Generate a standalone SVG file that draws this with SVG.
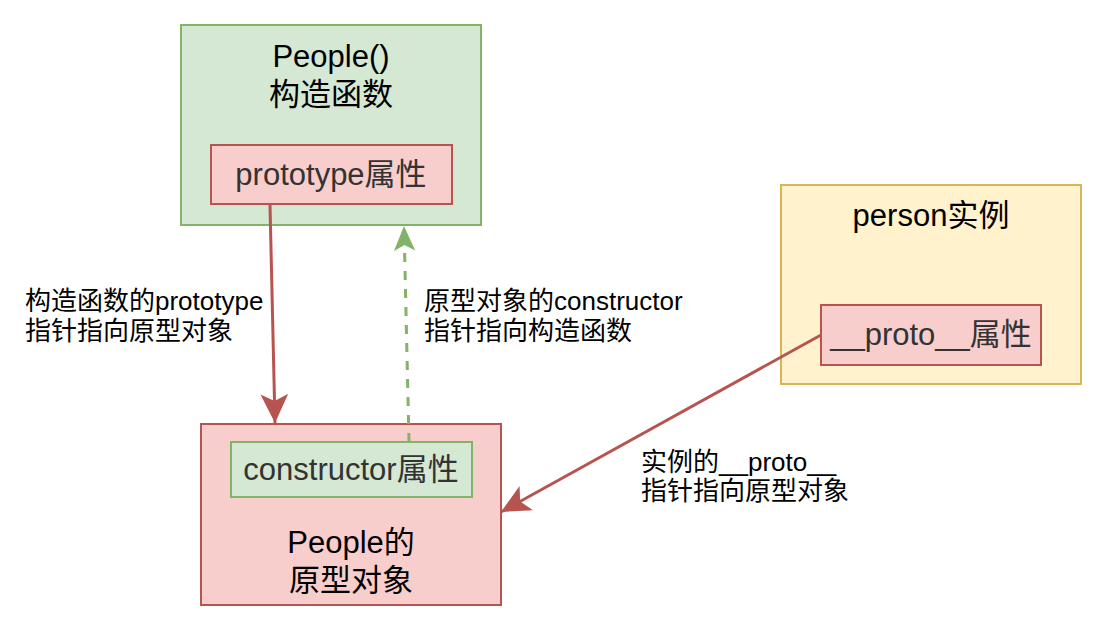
<svg xmlns="http://www.w3.org/2000/svg" width="1116" height="628" viewBox="0 0 1116 628">
<style>
text{font-family:"Liberation Sans","Noto Sans CJK SC",Arial,sans-serif;fill:#000}
.t{font-size:31px;text-anchor:middle}
.p{font-size:31px;text-anchor:middle;fill:#333}
.l{font-size:26px}
.green{fill:#d5e8d4;stroke:#82b366;stroke-width:2}
.red{fill:#f8cecc;stroke:#b85450;stroke-width:2}
.yellow{fill:#fff2cc;stroke:#d6b656;stroke-width:2}
.er{fill:none;stroke:#b85450;stroke-width:3}
.eg{fill:none;stroke:#82b366;stroke-width:3;stroke-dasharray:9 9}
</style>
<defs>
<marker id="ar" markerUnits="userSpaceOnUse" markerWidth="30" markerHeight="30" viewBox="0 -13 26 26" refX="25" refY="0" orient="auto">
<path d="M0,-12 L25,0 L0,12 L6,0 Z" fill="#b85450"/>
</marker>
<marker id="ag" markerUnits="userSpaceOnUse" markerWidth="26" markerHeight="26" viewBox="0 -10 22 20" refX="21" refY="0" orient="auto">
<path d="M0,-9 L21,0 L0,9 L5,0 Z" fill="#82b366"/>
</marker>
</defs>
<rect width="1116" height="628" fill="#fff"/>
<g id="constructor-fn">
<rect class="green" x="181" y="25" width="300" height="200"/>
<text class="t" x="331" y="67">People()</text>
<text class="t" x="331" y="105">构造函数</text>
</g>
<g id="prototype-prop">
<rect class="red" x="211" y="145" width="241" height="59"/>
<text class="p" x="331" y="185">prototype属性</text>
</g>
<g id="proto-object">
<rect class="red" x="201" y="424" width="300" height="181"/>
<text class="t" x="351" y="553">People的</text>
<text class="t" x="351" y="591">原型对象</text>
</g>
<g id="constructor-prop">
<rect class="green" x="231" y="442" width="241" height="55"/>
<text class="p" x="351" y="480">constructor属性</text>
</g>
<g id="person">
<rect class="yellow" x="781" y="185" width="300" height="199"/>
<text class="t" x="931" y="226">person实例</text>
</g>
<g id="proto-prop">
<rect class="red" x="821" y="305" width="220" height="60"/>
<text class="p" x="931" y="345">__proto__属性</text>
</g>
<g id="connectors">
<path class="er" d="M270,205 L275,423" marker-end="url(#ar)"/>
<path class="eg" d="M409,442 L404,226" marker-end="url(#ag)"/>
<path class="er" d="M821,335 L501,512" marker-end="url(#ar)"/>
<text class="l" x="25" y="310">构造函数的prototype</text>
<text class="l" x="25" y="340">指针指向原型对象</text>
<text class="l" x="424" y="310">原型对象的constructor</text>
<text class="l" x="424" y="340">指针指向构造函数</text>
<text class="l" x="641" y="471">实例的__proto__</text>
<text class="l" x="641" y="500">指针指向原型对象</text>
</g>
</svg>
